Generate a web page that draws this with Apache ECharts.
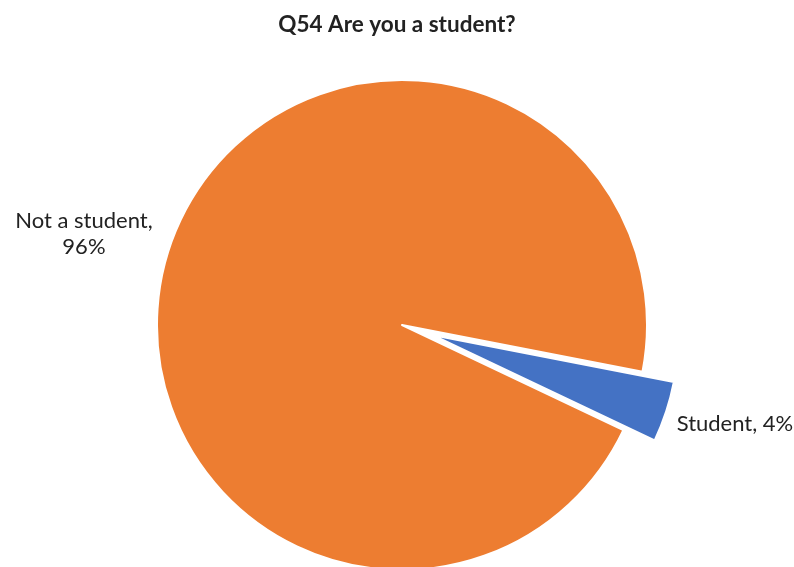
<!DOCTYPE html>
<html>
<head>
<meta charset="utf-8">
<script src="https://cdn.jsdelivr.net/npm/echarts@6/dist/echarts.min.js"></script>
<style>
  html, body { margin: 0; padding: 0; background: #fff; }
  #chart { width: 794px; height: 567px; }
</style>
</head>
<body>
<div id="chart"></div>
<script>
// Survey answers for Q54
const categories = ['Student', 'Not a student'];
const shares = [4, 96];
const colors = ['#4472C4', '#ED7D31'];

const chart = echarts.init(document.getElementById('chart'));

const data = categories.map((name, i) => ({
  name: name,
  value: shares[i],
  selected: name === 'Student',
  itemStyle: { color: colors[i] }
}));

chart.setOption({
  animation: false,
  title: {
    text: 'Q54 Are you a student?',
    left: 'center',
    top: 8,
    textStyle: { fontFamily: 'Lato', fontWeight: 'bold', fontSize: 22.5, color: '#222' }
  },
  series: [{
    type: 'pie',
    center: [402, 325],
    radius: 245,
    startAngle: -11,
    clockwise: true,
    selectedMode: 'single',
    selectedOffset: 33,
    itemStyle: { borderColor: '#fff', borderWidth: 2 },
    label: {
      show: true,
      position: 'outside',
      fontFamily: 'Lato',
      fontSize: 22,
      color: '#222',
      lineHeight: 26,
      formatter: p => p.name === 'Not a student'
        ? p.name + ',\n' + p.value + '%'
        : p.name + ', ' + p.value + '%'
    },
    labelLine: { show: false, length: 8, length2: 4 },
    // centre the two-line label on itself and nudge both labels to sit beside the pie
    labelLayout: p => p.dataIndex === 1
      ? { align: 'center', dx: -p.labelRect.width / 2, dy: -12 }
      : { dx: -6, dy: 10 },
    emphasis: { disabled: true },
    data: data
  }]
});
</script>
</body>
</html>
